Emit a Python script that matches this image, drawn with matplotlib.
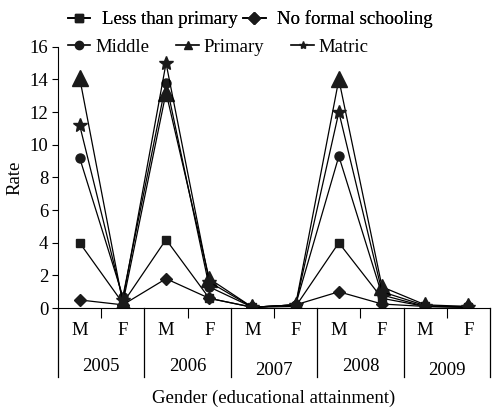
import matplotlib.pyplot as plt
from matplotlib.lines import Line2D
import numpy as np

plt.rcParams["font.family"] = ["Liberation Serif", "DejaVu Serif"]

years = ["2005", "2006", "2007", "2008", "2009"]
genders = ["M", "F"]

less_than_primary = [4.0, 0.3, 4.2, 0.6, 0.05, 0.1, 4.0, 0.6, 0.1, 0.05]
no_formal = [0.5, 0.2, 1.8, 0.6, 0.05, 0.2, 1.0, 0.25, 0.1, 0.1]
middle = [9.2, 0.7, 13.8, 1.3, 0.05, 0.2, 9.3, 0.8, 0.1, 0.05]
primary = [14.1, 0.3, 13.2, 1.8, 0.05, 0.2, 14.0, 1.3, 0.2, 0.1]
matric = [11.2, 0.5, 15.0, 1.6, 0.05, 0.2, 12.0, 1.0, 0.15, 0.05]

series = [
    ("Less than primary", less_than_primary, "s", 6),
    ("No formal schooling", no_formal, "D", 6),
    ("Middle", middle, "o", 6.5),
    ("Primary", primary, "^", 11),
    ("Matric", matric, "*", 10),
]

FS = 13.5
fig = plt.figure(figsize=(4.92, 4.07), dpi=100)
ax = fig.add_axes([0.118, 0.243, 0.878, 0.642])

x = np.arange(len(less_than_primary))
handles = []
for name, vals, mk, ms in series:
    ax.plot(x, vals, color="black", lw=0.9, marker=mk, ms=ms,
            mfc="#1a1a1a", mec="#1a1a1a", label=name)
    handles.append(Line2D([], [], color="black", lw=1.2, marker=mk,
                          ms=6, mfc="#1a1a1a", mec="#1a1a1a"))

ax.set_xlim(-0.5, len(x) - 0.5)
ax.set_ylim(0, 16)
ax.set_yticks(range(0, 17, 2))
ax.tick_params(axis="y", labelsize=FS, length=4, direction="out", pad=3)
ax.set_ylabel("Rate", fontsize=FS)
ax.yaxis.set_label_coords(-0.08, 0.5)
for s in ["top", "right"]:
    ax.spines[s].set_visible(False)

# two-level category axis: short ticks between M/F, long lines between years
ax.set_xticks(np.arange(0.5, len(x), 2))
ax.set_xticklabels([])
ax.tick_params(axis="x", length=7, direction="out")
for i, g in enumerate(genders * len(years)):
    ax.text(i, -0.085, g, transform=ax.get_xaxis_transform(),
            ha="center", va="center", fontsize=FS)
for j, yr in enumerate(years):
    dy = -0.015 if yr in ("2007", "2009") else 0
    ax.text(2 * j + 0.5, -0.222 + dy, yr, transform=ax.get_xaxis_transform(),
            ha="center", va="center", fontsize=FS)
for b in np.arange(-0.5, len(x), 2):
    ax.plot([b, b], [0, -0.265], color="black", lw=0.9,
            transform=ax.get_xaxis_transform(), clip_on=False)
ax.text(0.5, -0.345, "Gender (educational attainment)", transform=ax.transAxes,
        ha="center", va="center", fontsize=FS)

leg1 = fig.legend(handles[:2], [s[0] for s in series[:2]], ncol=2,
                  loc="center left", bbox_to_anchor=(0.138, 0.952),
                  frameon=False, fontsize=FS, handlelength=1.2,
                  handletextpad=0.6, columnspacing=0.3, borderpad=0,
                  borderaxespad=0)
fig.add_artist(leg1)
fig.legend(handles[2:], [s[0] for s in series[2:]], ncol=3,
           loc="center left", bbox_to_anchor=(0.138, 0.884), frameon=False,
           fontsize=FS, handlelength=1.2, handletextpad=0.25,
           columnspacing=1.45, borderpad=0, borderaxespad=0)

fig.savefig("out.png", dpi=100)
